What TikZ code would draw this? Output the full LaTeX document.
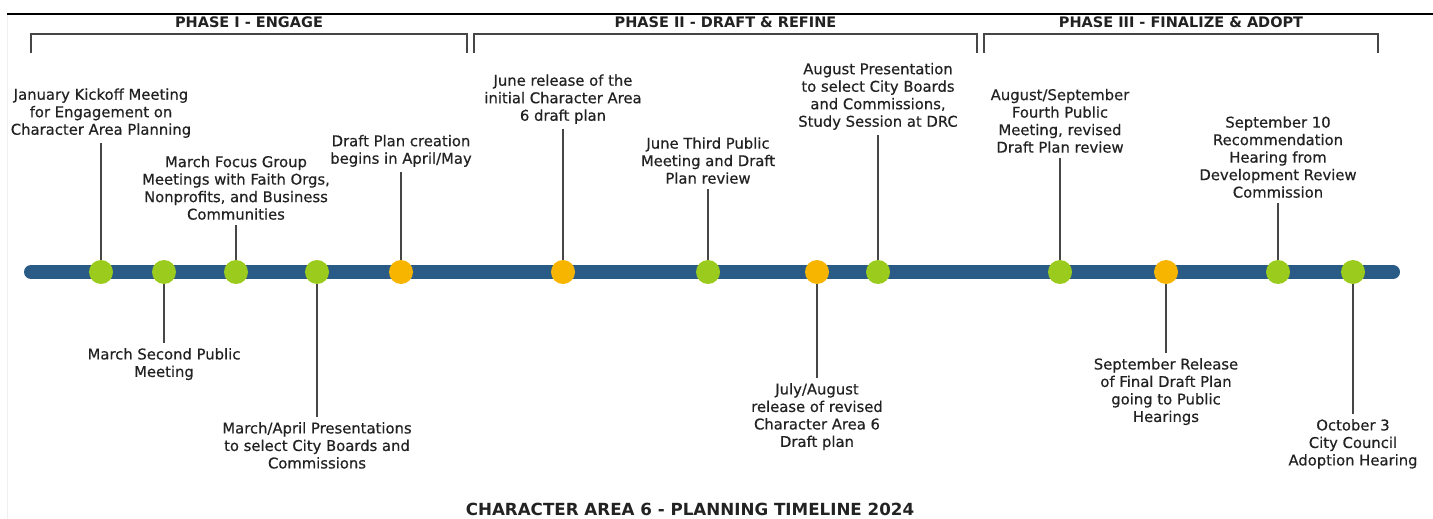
\documentclass[tikz,border=0pt]{standalone}
\usepackage{fontspec}
\setmainfont{DejaVu Sans}
\newfontfamily\labelfont{DejaVu Sans}[FakeBold=0.5]
\usetikzlibrary{positioning}
\definecolor{timelineblue}{RGB}{42, 90, 134}
\definecolor{meetinggreen}{RGB}{155, 203, 28}
\definecolor{draftorange}{RGB}{247, 181, 0}
\definecolor{stemgray}{RGB}{70, 70, 70}
\definecolor{inkblack}{RGB}{34, 34, 34}

\begin{document}
\begin{tikzpicture}[x=1pt, y=-1pt,
    meeting/.style={circle, fill=meetinggreen, minimum size=24pt, inner sep=0pt},
    release/.style={circle, fill=draftorange, minimum size=24pt, inner sep=0pt},
    uplabel/.style={anchor=south, align=center, inner sep=5pt, text=inkblack, font=\labelfont\fontsize{14.8}{17.5}\selectfont},
    downlabel/.style={anchor=north, align=center, inner sep=5pt, text=inkblack, font=\labelfont\fontsize{14.8}{17.5}\selectfont},
    phasehead/.style={anchor=base, text=inkblack, font=\fontsize{14.5}{17}\selectfont\bfseries},
    bracket/.style={draw=stemgray, line width=1.5pt},
    stem/.style={draw=stemgray, line width=1.5pt}]

\useasboundingbox (0,0) rectangle (1433,519);

% Page rules
\draw[gray!12, line width=1pt] (7,14) -- (7,519);
\draw[black, line width=2.5pt] (7,14) -- (1433,14);

% Phase headers
\node[phasehead] (phase1) at (249,28) {PHASE I - ENGAGE};
\node[phasehead] (phase2) at (725.5,28) {PHASE II - DRAFT \& REFINE};
\node[phasehead] (phase3) at (1181,28) {PHASE III - FINALIZE \& ADOPT};

\draw[bracket] (31,53) -- (31,34) -- (467,34) -- (467,53);
\draw[bracket] (474,53) -- (474,34) -- (977,34) -- (977,53);
\draw[bracket] (984,53) -- (984,34) -- (1378,34) -- (1378,53);

% Timeline
\draw[timelineblue, line width=14pt, line cap=round] (31,272) -- (1393,272);

% Milestones
\node[meeting] (m1) at (101,272) {};
\node[meeting] (m2) at (164,272) {};
\node[meeting] (m3) at (236,272) {};
\node[meeting] (m4) at (317,272) {};
\node[release] (m5) at (401,272) {};
\node[release] (m6) at (563,272) {};
\node[meeting] (m7) at (708,272) {};
\node[release] (m8) at (817,272) {};
\node[meeting] (m9) at (878,272) {};
\node[meeting] (m10) at (1060,272) {};
\node[release] (m11) at (1166,272) {};
\node[meeting] (m12) at (1278,272) {};
\node[meeting] (m13) at (1353,272) {};

% Labels above the timeline
\node[uplabel] (l1) at (101,143) {January Kickoff Meeting\\for Engagement on\\Character Area Planning};
\node[uplabel] (l3) at (236,225) {March Focus Group\\Meetings with Faith Orgs,\\Nonprofits, and Business\\Communities};
\node[uplabel] (l5) at (401,172) {Draft Plan creation\\begins in April/May};
\node[uplabel] (l6) at (563,129) {June release of the\\initial Character Area\\6 draft plan};
\node[uplabel] (l7) at (708,189) {June Third Public\\Meeting and Draft\\Plan review};
\node[uplabel] (l9) at (878,135) {August Presentation\\to select City Boards\\and Commissions,\\Study Session at DRC};
\node[uplabel] (l10) at (1060,158) {August/September\\Fourth Public\\Meeting, revised\\Draft Plan review};
\node[uplabel] (l12) at (1278,203) {September 10\\Recommendation\\Hearing from\\Development Review\\Commission};

% Labels below the timeline
\node[downlabel] (l2) at (164,343) {March Second Public\\Meeting};
\node[downlabel] (l4) at (317,417) {March/April Presentations\\to select City Boards and\\Commissions};
\node[downlabel] (l8) at (817,378) {July/August\\release of revised\\Character Area 6\\Draft plan};
\node[downlabel] (l11) at (1166,353) {September Release\\of Final Draft Plan\\going to Public\\Hearings};
\node[downlabel] (l13) at (1353,414) {October 3\\City Council\\Adoption Hearing};

% Stems
\draw[stem] (m1) -- (l1.south);
\draw[stem] (m3) -- (l3.south);
\draw[stem] (m5) -- (l5.south);
\draw[stem] (m6) -- (l6.south);
\draw[stem] (m7) -- (l7.south);
\draw[stem] (m9) -- (l9.south);
\draw[stem] (m10) -- (l10.south);
\draw[stem] (m12) -- (l12.south);
\draw[stem] (m2) -- (l2.north);
\draw[stem] (m4) -- (l4.north);
\draw[stem] (m8) -- (l8.north);
\draw[stem] (m11) -- (l11.north);
\draw[stem] (m13) -- (l13.north);

% Title
\node[anchor=base, text=inkblack, font=\fontsize{16.7}{19}\selectfont\bfseries] (title) at (690,515) {CHARACTER AREA 6 - PLANNING TIMELINE 2024};

\end{tikzpicture}
\end{document}
